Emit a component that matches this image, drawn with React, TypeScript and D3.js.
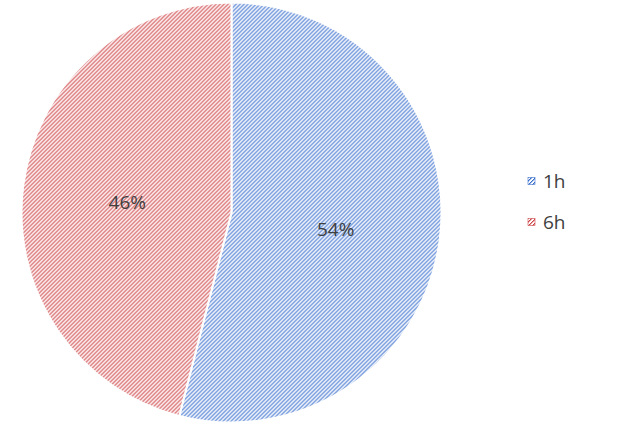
import React from "react";
import * as d3 from "d3";

const categories = ["1h", "6h"];
const values = [54, 46];
const colors = ["#3a6fcc", "#cc4547"];
const lightColors = ["#9cb8e8", "#e8a0a1"];

export default function App() {
  const width = 618;
  const height = 435;
  const cx = 231.5;
  const cy = 212.5;
  const r = 210;
  const pie = d3.pie<number>().sort(null)(values);
  const arc = d3.arc<d3.PieArcDatum<number>>().innerRadius(0).outerRadius(r);
  const labelArc = d3.arc<d3.PieArcDatum<number>>().innerRadius(r * 0.5).outerRadius(r * 0.5);
  const total = d3.sum(values);
  return (
    <svg width={width} height={height} style={{ position: "absolute", left: 0, top: 0, fontFamily: "'Open Sans', 'Noto Sans', sans-serif" }}>
      <defs>
        {colors.map((c, i) => (
          <pattern key={i} id={`hatch${i}`} patternUnits="userSpaceOnUse" width={4} height={4}>
            <rect width={4} height={4} fill="#fff" />
            {[0, 1, 2, 3].map((k) => (
              <rect key={k} x={k} y={3 - k} width={1} height={1} fill={c} shapeRendering="crispEdges" />
            ))}
            {[0, 1, 2, 3].map((k) => (
              <rect key={"l" + k} x={k} y={(4 - k) % 4} width={1} height={1} fill={lightColors[i]} shapeRendering="crispEdges" />
            ))}
          </pattern>
        ))}
      </defs>
      <rect width={width} height={height} fill="#fff" />
      <g transform={`translate(${cx},${cy})`}>
        {pie.map((d, i) => (
          <path key={i} d={arc(d) || ""} fill={`url(#hatch${i})`} stroke="#fff" strokeWidth={2} />
        ))}
        {pie.map((d, i) => {
          const [x, y] = labelArc.centroid(d);
          return (
            <text key={i} x={x} y={y + 3} textAnchor="middle" dominantBaseline="central" fontSize={19} fill="#404040">
              {Math.round((d.data / total) * 100)}%
            </text>
          );
        })}
      </g>
      {categories.map((c, i) => (
        <g key={c} transform={`translate(528,${181 + i * 41})`}>
          <rect x={0} y={-3.5} width={7} height={7} fill={`url(#hatch${i})`} stroke={colors[i]} strokeWidth={0.6} />
          <text x={15} y={0} dominantBaseline="central" fontSize={19} fill="#404040">{c}</text>
        </g>
      ))}
    </svg>
  );
}
